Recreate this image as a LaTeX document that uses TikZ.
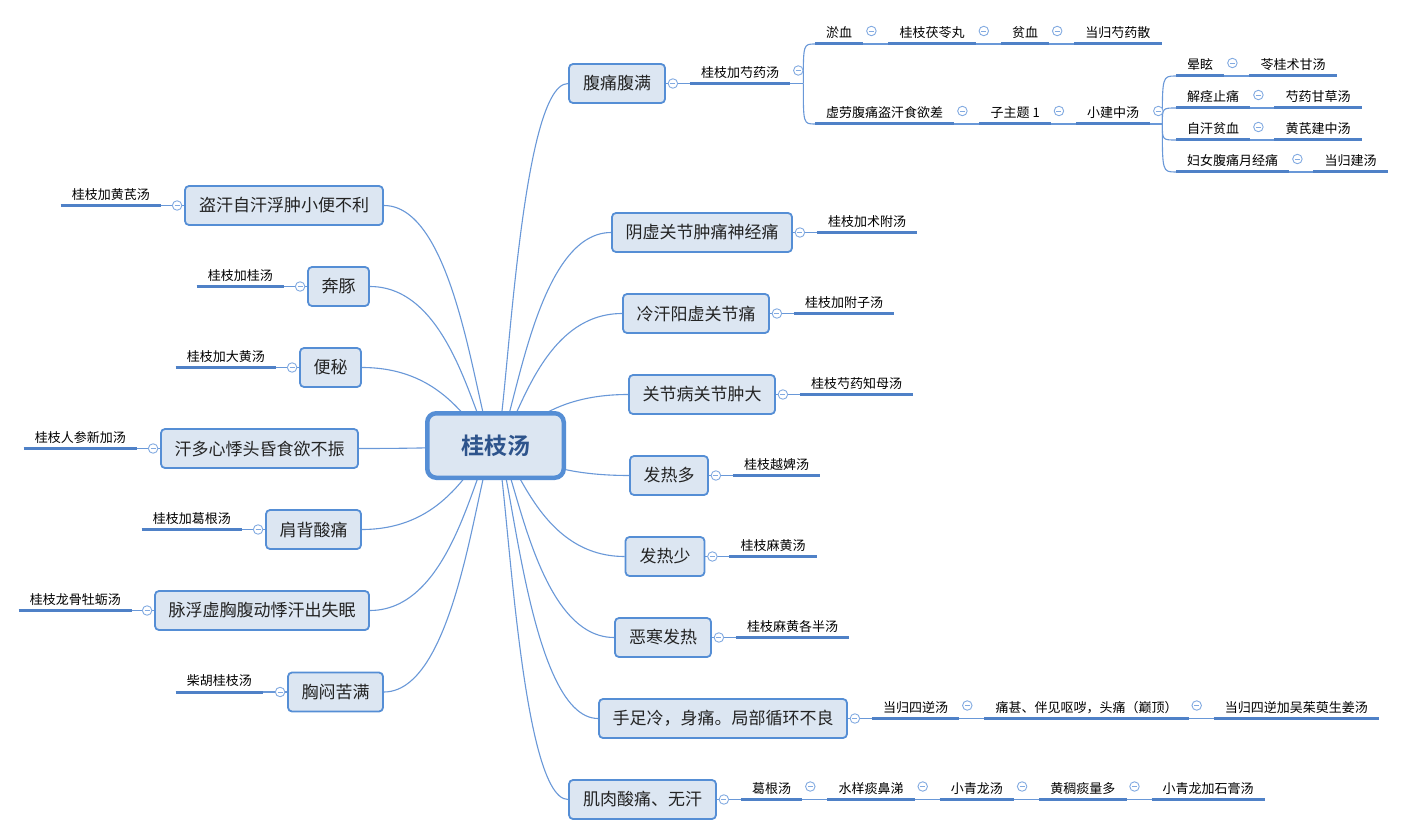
\documentclass[tikz,border=0pt]{standalone}
\usepackage{fontspec}
\newfontfamily\cjk{Noto Sans CJK SC}
\newfontfamily\cjkb{Noto Sans CJK SC Bold}
\usetikzlibrary{calc}
\pgfdeclarelayer{back}
\pgfdeclarelayer{bg}
\pgfsetlayers{back,bg,main}
\definecolor{bord}{RGB}{85,142,213}
\definecolor{boxfill}{RGB}{220,230,242}
\definecolor{uln}{RGB}{79,129,199}
\definecolor{thinc}{RGB}{105,152,216}
\definecolor{ctlc}{RGB}{130,170,225}
\definecolor{txt}{RGB}{35,35,35}
\definecolor{ctxt}{RGB}{46,84,140}
\begin{document}
\begin{tikzpicture}[x=1pt,y=-1pt,
  topic/.style={draw=bord, fill=boxfill, line width=1.8pt, rounded corners=4pt,
    minimum height=39pt, minimum width=#1, inner xsep=0pt,
    font=\cjk\fontsize{17}{20}\selectfont, text=txt},
  central/.style={draw=bord, fill=boxfill, line width=4.5pt, rounded corners=9pt,
    minimum width=136.5pt, minimum height=64.5pt, inner sep=0pt,
    font=\cjkb\fontsize{23}{26}\selectfont, text=ctxt},
  sub/.style={inner xsep=11pt, inner ysep=0pt, text height=11pt, text depth=6pt,
    font=\cjk\fontsize{13}{15}\selectfont, text=black},
  ctl/.style={circle, draw=ctlc, fill=white, line width=0.9pt, minimum size=9.5pt, inner sep=0pt,
    path picture={\draw[ctlc, line width=0.9pt] ([xshift=2.2pt]path picture bounding box.west) -- ([xshift=-2.2pt]path picture bounding box.east);}},
  conn/.style={draw=thinc, line width=1.1pt},
  uline/.style={draw=uln, line width=3pt},
]
\begin{pgfonlayer}{back}
\fill[white] (0,0) rectangle (1406,837);
\end{pgfonlayer}
\useasboundingbox (0,0) rectangle (1406,837);

% central
\node[central] (C) at (495.5,445.5) {桂枝汤};

% right topics
\node[topic=96pt]  (r1) at (617,83.5)   {腹痛腹满};
\node[topic=180pt] (r2) at (702,232.5)  {阴虚关节肿痛神经痛};
\node[topic=146pt] (r3) at (696,313.5)  {冷汗阳虚关节痛};
\node[topic=146pt] (r4) at (702,394.5)  {关节病关节肿大};
\node[topic=78pt]  (r5) at (669,475.5)  {发热多};
\node[topic=79pt]  (r6) at (665,556.5)  {发热少};
\node[topic=96pt]  (r7) at (663,637.5)  {恶寒发热};
\node[topic=248pt] (r8) at (723,718.5)  {手足冷，身痛。局部循环不良};
\node[topic=147pt] (r9) at (642.5,799.5) {肌肉酸痛、无汗};

% left topics
\node[topic=198pt] (l1) at (284,205.5)   {盗汗自汗浮肿小便不利};
\node[topic=61pt]  (l2) at (338.5,286.5) {奔豚};
\node[topic=61pt]  (l3) at (330.5,367.5) {便秘};
\node[topic=197pt] (l4) at (259.5,448.5) {汗多心悸头昏食欲不振};
\node[topic=95pt]  (l5) at (313.5,529.5) {肩背酸痛};
\node[topic=214pt] (l6) at (262,610.5)   {脉浮虚胸腹动悸汗出失眠};
\node[topic=95pt]  (l7) at (335.5,692)   {胸闷苦满};

% right subtopics
\node[sub, anchor=south west] (r1a) at ($(r1.east)+(24,0)$) {桂枝加芍药汤};
\node[sub, anchor=south west] (r2a) at ($(r2.east)+(24,0)$) {桂枝加术附汤};
\node[sub, anchor=south west] (r3a) at ($(r3.east)+(24,0)$) {桂枝加附子汤};
\node[sub, anchor=south west] (r4a) at ($(r4.east)+(24,0)$) {桂枝芍药知母汤};
\node[sub, anchor=south west] (r5a) at ($(r5.east)+(24,0)$) {桂枝越婢汤};
\node[sub, anchor=south west] (r6a) at ($(r6.east)+(24,0)$) {桂枝麻黄汤};
\node[sub, anchor=south west] (r7a) at ($(r7.east)+(24,0)$) {桂枝麻黄各半汤};
\node[sub, anchor=south west] (r8a) at ($(r8.east)+(24,0)$) {当归四逆汤};
\node[sub, anchor=south west] (r8b) at ($(r8a.south east)+(25,0)$) {痛甚、伴见呕哕，头痛（巅顶）};
\node[sub, anchor=south west] (r8c) at ($(r8b.south east)+(25,0)$) {当归四逆加吴茱萸生姜汤};
\node[sub, anchor=south west] (r9a) at ($(r9.east)+(24,0)$) {葛根汤};
\node[sub, anchor=south west] (r9b) at ($(r9a.south east)+(25,0)$) {水样痰鼻涕};
\node[sub, anchor=south west] (r9c) at ($(r9b.south east)+(25,0)$) {小青龙汤};
\node[sub, anchor=south west] (r9d) at ($(r9c.south east)+(25,0)$) {黄稠痰量多};
\node[sub, anchor=south west] (r9e) at ($(r9d.south east)+(25,0)$) {小青龙加石膏汤};

% branch of 桂枝加芍药汤
\coordinate (J1) at ($(r1a.south east)+(13,0)$);
\node[sub, anchor=south west] (a1) at (815,44) {淤血};
\node[sub, anchor=south west] (a2) at ($(a1.south east)+(25,0)$) {桂枝茯苓丸};
\node[sub, anchor=south west] (a3) at ($(a2.south east)+(25,0)$) {贫血};
\node[sub, anchor=south west] (a4) at ($(a3.south east)+(25,0)$) {当归芍药散};
\node[sub, anchor=south west] (a5) at (815,124) {虚劳腹痛盗汗食欲差};
\node[sub, anchor=south west] (a6) at ($(a5.south east)+(25,0)$) {子主题 1};
\node[sub, anchor=south west] (a7) at ($(a6.south east)+(25,0)$) {小建中汤};
\coordinate (J2) at ($(a7.south east)+(12,0)$);
\node[sub, anchor=south west] (b1) at (1176,76)  {晕眩};
\node[sub, anchor=south west] (b2) at ($(b1.south east)+(25,0)$) {苓桂术甘汤};
\node[sub, anchor=south west] (b3) at (1176,108) {解痉止痛};
\node[sub, anchor=south west] (b4) at ($(b3.south east)+(24,0)$) {芍药甘草汤};
\node[sub, anchor=south west] (b5) at (1176,140) {自汗贫血};
\node[sub, anchor=south west] (b6) at ($(b5.south east)+(24,0)$) {黄芪建中汤};
\node[sub, anchor=south west] (b7) at (1176,172) {妇女腹痛月经痛};
\node[sub, anchor=south west] (b8) at ($(b7.south east)+(24,0)$) {当归建汤};

% left subtopics
\node[sub, anchor=south east] (l1a) at ($(l1.west)+(-23,0)$) {桂枝加黄芪汤};
\node[sub, anchor=south east] (l2a) at ($(l2.west)+(-23,0)$) {桂枝加桂汤};
\node[sub, anchor=south east] (l3a) at ($(l3.west)+(-23,0)$) {桂枝加大黄汤};
\node[sub, anchor=south east] (l4a) at ($(l4.west)+(-23,0)$) {桂枝人参新加汤};
\node[sub, anchor=south east] (l5a) at ($(l5.west)+(-23,0)$) {桂枝加葛根汤};
\node[sub, anchor=south east] (l6a) at ($(l6.west)+(-22,0)$) {桂枝龙骨牡蛎汤};
\node[sub, anchor=south east] (l7a) at ($(l7.west)+(-24,0)$) {柴胡桂枝汤};

% underlines
\foreach \n in {r1a,r2a,r3a,r4a,r5a,r6a,r7a,r8a,r8b,r8c,r9a,r9b,r9c,r9d,r9e,
  a1,a2,a3,a4,a5,a6,a7,b1,b2,b3,b4,b5,b6,b7,b8,
  l1a,l2a,l3a,l4a,l5a,l6a,l7a}
  \draw[uline] (\n.south west) -- (\n.south east);

% connectors (behind nodes)
\begin{pgfonlayer}{bg}
\foreach \t in {r1,r2,r3,r4,r5,r6,r7,r8,r9}{
  \coordinate (h\t) at (C.center -| \t.west);
  \coordinate (v\t) at (C.center |- \t.west);
  \draw[conn] (C.center) .. controls ($(C.center)!0.15!(h\t)$) and ($(v\t)!0.3!(\t.west)$) .. (\t.west);
}
\foreach \t in {l1,l2,l3,l4,l5,l6,l7}{
  \coordinate (h\t) at (C.center -| \t.east);
  \coordinate (v\t) at (C.center |- \t.east);
  \draw[conn] (C.center) .. controls ($(C.center)!0.15!(h\t)$) and ($(v\t)!0.3!(\t.east)$) .. (\t.east);
}
\foreach \t in {r1,r2,r3,r4,r5,r6,r7,r8,r9}
  \draw[conn] (\t.east) -- (\t a.south west);
\foreach \t in {l1,l2,l3,l4,l5,l6,l7}
  \draw[conn] (\t.west) -- (\t a.south east);
\draw[conn] (r8a.south east) -- (r8b.south west);
\draw[conn] (r8b.south east) -- (r8c.south west);
\draw[conn] (r9a.south east) -- (r9b.south west);
\draw[conn] (r9b.south east) -- (r9c.south west);
\draw[conn] (r9c.south east) -- (r9d.south west);
\draw[conn] (r9d.south east) -- (r9e.south west);
\draw[conn] (r1a.south east) -- (J1);
\draw[conn] (J1) .. controls (J1 |- a1.south west) .. (a1.south west);
\draw[conn] (J1) .. controls (J1 |- a5.south west) .. (a5.south west);
\draw[conn] (a1.south east) -- (a2.south west);
\draw[conn] (a2.south east) -- (a3.south west);
\draw[conn] (a3.south east) -- (a4.south west);
\draw[conn] (a5.south east) -- (a6.south west);
\draw[conn] (a6.south east) -- (a7.south west);
\draw[conn] (a7.south east) -- (J2);
\foreach \b in {b1,b3,b5,b7}
  \draw[conn] (J2) .. controls (J2 |- \b.south west) .. (\b.south west);
\draw[conn] (b1.south east) -- (b2.south west);
\draw[conn] (b3.south east) -- (b4.south west);
\draw[conn] (b5.south east) -- (b6.south west);
\draw[conn] (b7.south east) -- (b8.south west);
\end{pgfonlayer}

% collapse markers
\foreach \t in {r1,r2,r3,r4,r5,r6,r7,r8,r9}
  \node[ctl] (c\t) at ($(\t.east)+(7,0)$) {};
\foreach \t in {l1,l2,l3,l4,l5,l6,l7}
  \node[ctl] (c\t) at ($(\t.west)+(-7,0)$) {};
\foreach \n in {r1a,r8a,r8b,r9a,r9b,r9c,r9d,a1,a2,a3,a5,a6,a7,b1,b3,b5,b7}
  \node[ctl] (c\n) at ($(\n.south east)+(8,-13)$) {};
\end{tikzpicture}
\end{document}
